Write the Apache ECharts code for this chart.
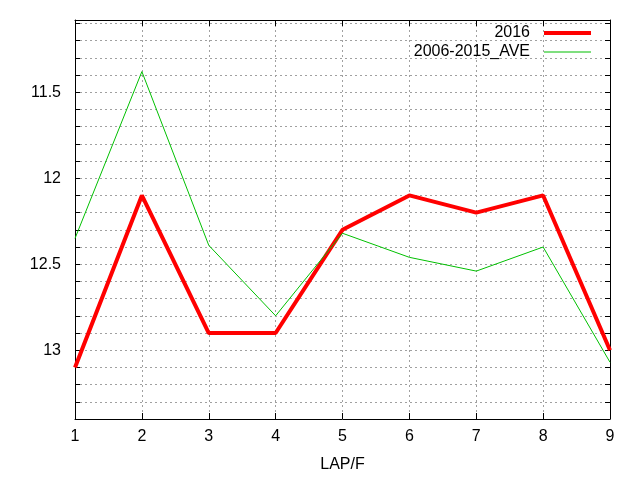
<!DOCTYPE html>
<html>
<head>
<meta charset="utf-8">
<script src="https://cdn.jsdelivr.net/npm/echarts@6/dist/echarts.min.js"></script>
<style>
html,body{margin:0;padding:0;background:#fff;}
#main{width:640px;height:480px;}
</style>
</head>
<body>
<div id="main"></div>
<script>
var laps = [1, 2, 3, 4, 5, 6, 7, 8, 9];
var y2016 = [13.1, 12.1, 12.9, 12.9, 12.3, 12.1, 12.2, 12.1, 13.0];
var yAve = [12.35, 11.38, 12.39, 12.8, 12.32, 12.46, 12.54, 12.4, 13.07];
var yTicks = [11.1, 11.2, 11.3, 11.4, 11.5, 11.6, 11.7, 11.8, 11.9, 12.0, 12.1, 12.2,
	12.3, 12.4, 12.5, 12.6, 12.7, 12.8, 12.9, 13.0, 13.1, 13.2, 13.3];
var yLabels = [11.5, 12, 12.5, 13];

var chart = echarts.init(document.getElementById('main'));

function pairs(ys) {
	return laps.map(function (x, i) { return [x, ys[i]]; });
}

var font = 'Liberation Sans';
var gridLine = { show: true, lineStyle: { color: '#a0a0a0', type: [2, 3], width: 1 } };

var option = {
	animation: false,
	textStyle: { fontFamily: font },
	grid: { left: 75, right: 30, top: 20, bottom: 61 },
	legend: {
		orient: 'vertical',
		right: 49,
		top: 25,
		padding: 0,
		align: 'right',
		itemWidth: 47,
		itemHeight: 12,
		itemGap: 3,
		textStyle: { fontFamily: font, fontSize: 16, lineHeight: 16, color: '#000', padding: [0, 9, 0, 0] },
		data: [
			{ name: '2016', icon: 'path://M0,0H47V4H0Z' },
			{ name: '2006-2015_AVE', icon: 'path://M0,0H47V1H0Z' }
		]
	},
	xAxis: [
		{
			type: 'value', min: 1, max: 9, interval: 1,
			name: 'LAP/F', nameLocation: 'middle', nameGap: 38,
			nameTextStyle: { fontFamily: font, fontSize: 16, color: '#000' },
			axisLine: { show: true, onZero: false, lineStyle: { color: '#000', width: 1 } },
			axisTick: { inside: true, length: 6, lineStyle: { color: '#000' } },
			axisLabel: { fontFamily: font, fontSize: 16, color: '#000', margin: 10 },
			splitLine: gridLine
		},
		{
			type: 'value', min: 1, max: 9, interval: 1, position: 'top',
			axisLine: { show: true, onZero: false, lineStyle: { color: '#000', width: 1 } },
			axisTick: { inside: true, length: 6, lineStyle: { color: '#000' } },
			axisLabel: { show: false },
			splitLine: { show: false }
		}
	],
	yAxis: [
		{
			type: 'value', min: 11.08, max: 13.4, inverse: true,
			axisLine: { show: true, onZero: false, lineStyle: { color: '#000', width: 1 } },
			axisTick: { inside: true, length: 5, customValues: yTicks, lineStyle: { color: '#000' } },
			axisLabel: { fontFamily: font, fontSize: 16, color: '#000', margin: 14, customValues: yLabels },
			splitLine: gridLine
		},
		{
			type: 'value', min: 11.08, max: 13.4, inverse: true, position: 'right',
			axisLine: { show: true, onZero: false, lineStyle: { color: '#000', width: 1 } },
			axisTick: { inside: true, length: 5, customValues: yTicks, lineStyle: { color: '#000' } },
			axisLabel: { show: false },
			splitLine: { show: false }
		}
	],
	series: [
		{
			name: '2016', type: 'line', showSymbol: false, symbol: 'none',
			itemStyle: { color: '#ff0000' },
			lineStyle: { color: '#ff0000', width: 4 },
			z: 3,
			data: pairs(y2016)
		},
		{
			name: '2006-2015_AVE', type: 'line', showSymbol: false, symbol: 'none',
			itemStyle: { color: '#00c000' },
			lineStyle: { color: '#00c000', width: 1 },
			z: 4,
			data: pairs(yAve)
		}
	]
};
chart.setOption(option);
</script>
</body>
</html>
